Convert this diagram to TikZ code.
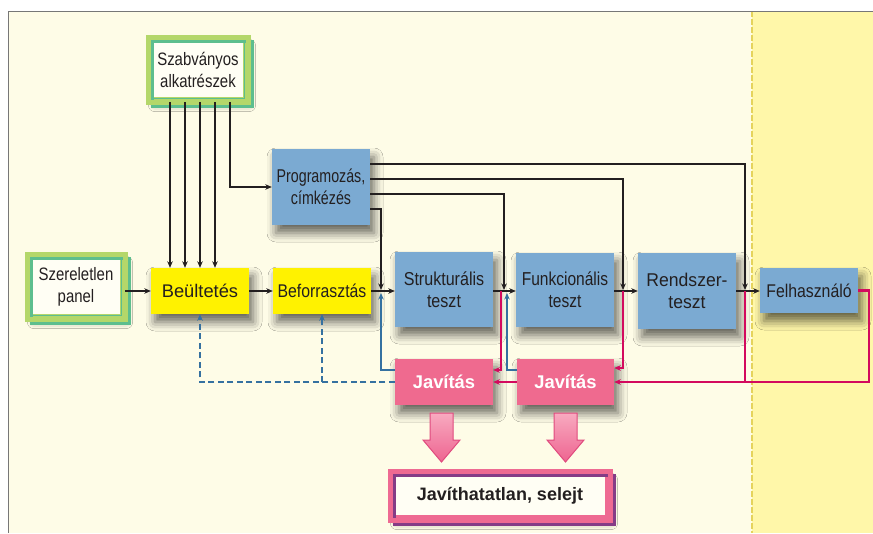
\documentclass[tikz,border=0pt]{standalone}
\usepackage{fontspec}
\setmainfont{Liberation Sans}
\newfontfamily\nfA[FakeStretch=0.77]{Liberation Sans}
\newfontfamily\nfB[FakeStretch=0.83]{Liberation Sans}
\newfontfamily\nfC[FakeStretch=0.86]{Liberation Sans}
\newfontfamily\nfD[FakeStretch=0.95]{Liberation Sans}
\usetikzlibrary{arrows.meta,shadows.blur}
\definecolor{bgcream}{HTML}{FEFCE7}
\definecolor{bgyel}{HTML}{FFF7A9}
\definecolor{dashyel}{HTML}{E5D35C}
\definecolor{frameg}{HTML}{777777}
\definecolor{boxblue}{HTML}{7BAAD2}
\definecolor{boxyel}{HTML}{FFF200}
\definecolor{boxpink}{HTML}{EF6A8F}
\definecolor{lgreen}{HTML}{B4D76A}
\definecolor{dgreen}{HTML}{5DBE8E}
\definecolor{fpink}{HTML}{EE6A92}
\definecolor{fpurple}{HTML}{853C86}
\definecolor{lnblack}{HTML}{231F20}
\definecolor{lnpink}{HTML}{D30A5E}
\definecolor{lnblue}{HTML}{3571A0}
\definecolor{txt}{HTML}{231F20}
\definecolor{arrtop}{HTML}{F8AAC0}
\definecolor{arrbot}{HTML}{EE6490}
\definecolor{arrline}{HTML}{E04A7E}
\definecolor{framefill}{HTML}{FFFEF4}
\newcommand\deepframe[3]{%
  \draw[#3,line width=3pt] ([shift={(4,4)}]#1.north west) rectangle ([shift={(4,4)}]#1.south east);
  \draw[#2,line width=5pt] (#1.north west) rectangle (#1.south east);
}
\tikzset{
  arr/.style={-{Stealth[length=6.5pt,width=5.5pt]}},
  blk/.style={draw=lnblack,line width=2.4pt},
  pnk/.style={draw=lnpink,line width=2.4pt},
  blu/.style={draw=lnblue,line width=2.4pt},
  shad/.style={blur shadow={shadow xshift=4pt,shadow yshift=-8pt,shadow blur radius=9pt,shadow opacity=60}},
  box/.style={rectangle,inner sep=2pt,align=center,text=txt,shad},
  bluebox/.style={box,fill=boxblue},
  yelbox/.style={box,fill=boxyel},
  pinkbox/.style={box,fill=boxpink,text=white,font=\bfseries\fontsize{18.4}{20}\selectfont},
  framebox/.style={rectangle,inner sep=2pt,align=center,text=txt,fill=framefill,line width=5pt,
    blur shadow={shadow xshift=4pt,shadow yshift=-6pt,shadow blur radius=6pt,shadow opacity=35}},
  bigarrow/.style={draw=arrline,line width=1pt,top color=arrtop,bottom color=arrbot},
}
\begin{document}
\begin{tikzpicture}[x=1pt,y=-1pt]
\useasboundingbox (0,0) rectangle (873,533);
% background
\fill[white] (0,0) rectangle (873,533);
\fill[bgcream] (8,11) rectangle (873,533);
\fill[bgyel] (752,11) rectangle (873,533);
\draw[dashyel,line width=2.5pt,dash pattern=on 6pt off 2pt] (752,11) -- (752,533);
\draw[frameg,line width=1pt] (8,533) -- (8,11) -- (873,11);

% nodes
\node[framebox,draw=lgreen,minimum width=95,minimum height=60,font=\nfB\fontsize{18}{22}\selectfont] (std) at (198,69.5) {Szabványos\\alkatrészek};
\node[framebox,draw=lgreen,minimum width=93,minimum height=60,font=\nfB\fontsize{18}{22}\selectfont] (pan) at (76,286.5) {Szereletlen\\panel};
\node[yelbox,minimum width=98,minimum height=46,font=\fontsize{18.3}{20}\selectfont] (beul) at (200,291) {Beültetés};
\node[yelbox,minimum width=98,minimum height=46,font=\nfC\fontsize{18.4}{20}\selectfont] (befor) at (322,291) {Beforrasztás};
\node[bluebox,minimum width=98,minimum height=76,font=\nfA\fontsize{18.5}{22}\selectfont] (prog) at (321,187) {Programozás,\\címkézés};
\node[bluebox,minimum width=98,minimum height=75,font=\nfC\fontsize{18.7}{22}\selectfont] (strukt) at (444,289.5) {Strukturális\\teszt};
\node[bluebox,minimum width=98,minimum height=74,font=\nfB\fontsize{18.7}{22}\selectfont] (funk) at (565,290) {Funkcionális\\teszt};
\node[bluebox,minimum width=98,minimum height=76,font=\nfD\fontsize{18.5}{22}\selectfont] (rend) at (687,291) {Rendszer-\\teszt};
\node[bluebox,minimum width=98,minimum height=45,font=\nfC\fontsize{18.4}{20}\selectfont] (felh) at (809,290.5) {Felhasználó};
\node[pinkbox,minimum width=98,minimum height=46] (jav1) at (444,382) {Javítás};
\node[pinkbox,minimum width=97,minimum height=46] (jav2) at (565.5,382) {Javítás};
\node[framebox,draw=fpink,minimum width=215,minimum height=44,font=\bfseries\fontsize{18}{20}\selectfont] (sel) at (500,495.5) {Javíthatatlan, selejt};

% 3D frames
\deepframe{std}{lgreen}{dgreen}
\draw[dgreen,line width=1.5pt] ([shift={(3.5,3.5)}]std.north west) rectangle ([shift={(-3.5,-3.5)}]std.south east);
\deepframe{pan}{lgreen}{dgreen}
\draw[dgreen,line width=1.5pt] ([shift={(3.5,3.5)}]pan.north west) rectangle ([shift={(-3.5,-3.5)}]pan.south east);
\deepframe{sel}{fpink}{fpurple}

% junction coordinates
\coordinate (d1) at (381,290);
\coordinate (d2) at (504,290);
\coordinate (d3) at (623,290);
\coordinate (d4) at (745,290);
\coordinate (p2) at (501,291);
\coordinate (p3) at (623,291);
\coordinate (p4) at (745,291);
\coordinate (b1) at (381,293);
\coordinate (b2) at (507,293);

% standard parts down to Beültetés
\foreach \dx/\nm in {-30/s1,-15/s2,0/s3,15/s4,30/s5}{
  \coordinate (\nm) at ([xshift=\dx pt]beul.north);
}
\foreach \nm in {s1,s2,s3,s4}{
  \draw[blk,arr] (\nm |- std.south) -- (\nm);
}
\draw[blk,arr] (s5 |- std.south) |- (prog.west);

% main chain
\draw[blk,arr] (pan.east |- beul.west) -- (beul.west);
\draw[blk,arr] (beul.east) -- (befor.west);
\draw[blk,arr] (befor.east) -- (strukt.west |- befor.east);
\draw[blk,arr] (strukt.east |- befor.east) -- (funk.west |- befor.east);
\draw[blk,arr] (funk.east |- befor.east) -- (rend.west |- befor.east);
\draw[blk,arr] (rend.east |- befor.east) -- (felh.west |- befor.east);

% programming outputs
\draw[blk,arr] ([yshift=23pt]prog.east) -| (d4);
\draw[blk,arr] ([yshift=8pt]prog.east) -| (d3);
\draw[blk,arr] ([yshift=-7pt]prog.east) -| (d2);
\draw[blk,arr] ([yshift=-22pt]prog.east) -| (d1);

% repair (pink)
\draw[pnk,arr] (p2) |- ([yshift=12pt]jav1.east);
\draw[pnk,arr] (p3) |- ([yshift=14pt]jav2.east);
\draw[pnk,arr] (felh.east) -- ++(11,0) |- (jav2.east);
\draw[pnk] (p4) -- (p4 |- jav2.east);
\draw[pnk,arr] (jav2.west) -- (jav1.east);

% back from repair (blue)
\draw[blu,arr] ([yshift=12pt]jav1.west) -| (b1);
\draw[blu,arr] ([yshift=12pt]jav2.west) -| (b2);
\draw[blu,arr,dash pattern=on 6pt off 3.5pt] (jav1.west) -| (beul.south);
\draw[blu,arr,dash pattern=on 6pt off 3.5pt] (jav1.west -| befor.south) -- (befor.south);

% big arrows to scrap
\foreach \cx in {441.5,565.5}{
  \draw[bigarrow] ({\cx-11.5},413) -- ({\cx+11.5},413) -- ({\cx+11.5},440) -- ({\cx+18.5},440)
    -- (\cx,462) -- ({\cx-18.5},440) -- ({\cx-11.5},440) -- cycle;
}
\end{tikzpicture}
\end{document}
